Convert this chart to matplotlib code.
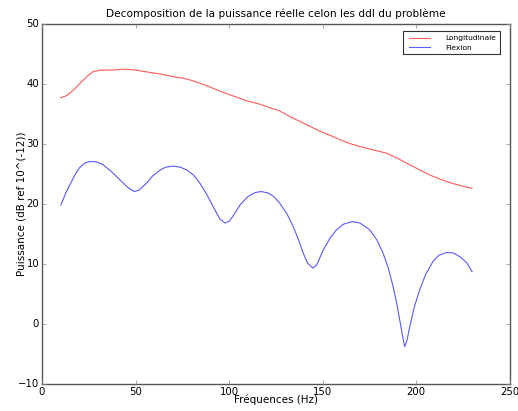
import matplotlib
matplotlib.use("Agg")
import matplotlib.pyplot as plt

# Longitudinal series
freq_long = [10, 13, 17, 21, 25, 27.4, 32, 38, 44.3, 50, 57.7, 64, 70.2, 76, 80.8, 88, 95, 102,
             109.3, 116.5, 122, 127, 132.5, 140, 148, 157.4, 164, 169.9, 177, 184.1, 190,
             194.8, 201, 207.3, 213, 218, 224, 229.9]
p_long = [37.7, 38.0, 39.0, 40.3, 41.5, 42.05, 42.3, 42.3, 42.45, 42.3, 41.9, 41.6, 41.2, 40.9,
          40.5, 39.7, 38.8, 38.0, 37.2, 36.6, 36.0, 35.5, 34.55, 33.4, 32.2, 30.95, 30.1,
          29.55, 29.0, 28.45, 27.6, 26.8, 25.8, 24.8, 24.1, 23.55, 23.0, 22.6]

# Flexion series
freq_flex = [10.1, 13, 17.6, 20, 22.9, 25, 27.9, 30, 32.8, 37, 41.7, 46, 49.3, 52, 55.9, 59, 63,
             66, 70.2, 74, 77.3, 81, 84.4, 88, 91.5, 95, 97.8, 100, 102, 105.8, 110, 114,
             117.3, 121, 124, 127.1, 131, 134.3, 137, 139.6, 142, 144.9, 147, 150.3, 154,
             157.4, 161, 166, 170, 175.2, 179, 182.3, 185, 187.7, 189.5, 191.2, 192.6, 193.9,
             195.2, 196.6, 199, 201.9, 205, 209, 212, 216.2, 220, 223.3, 227, 229.9]
p_flex = [19.8, 22.0, 24.8, 26.0, 26.8, 27.0, 27.05, 26.9, 26.5, 25.4, 24.0, 22.7, 22.05, 22.3,
          23.45, 24.6, 25.6, 26.1, 26.3, 26.1, 25.67, 24.8, 23.45, 21.6, 19.55, 17.5, 16.8,
          17.1, 17.9, 19.8, 21.2, 21.9, 22.05, 21.8, 21.2, 20.1, 18.3, 16.2, 14.1, 11.8, 10.1,
          9.28, 9.9, 12.3, 14.3, 15.67, 16.6, 17.05, 16.8, 15.67, 14.0, 11.8, 9.4, 6.2, 3.6,
          0.67, -1.8, -3.8, -2.6, -0.45, 2.8, 5.67, 8.2, 10.4, 11.4, 11.9, 11.8, 11.2, 10.2, 8.7]

plt.style.use('classic')
fig = plt.figure(figsize=(5.18, 4.11), dpi=100, facecolor='white')
ax = fig.add_subplot(111)
fig.subplots_adjust(left=0.081, right=0.984, top=0.942, bottom=0.066)

ax.plot(freq_long, p_long, color='#ff0000', lw=0.8, alpha=0.65, label='Longitudinale')
ax.plot(freq_flex, p_flex, color='#0000ff', lw=0.8, alpha=0.65, label='Flexion')

ax.set_xlim(0, 250)
ax.set_ylim(-10, 50)
ax.tick_params(labelsize=7.3, length=3, color='#888888', pad=2)
ax.set_title('Decomposition de la puissance réelle celon les ddl du problème', fontsize=7.6)
ax.set_xlabel('Fréquences (Hz)', fontsize=7.5)
ax.set_ylabel('Puissance (dB ref 10^(-12))', fontsize=7.5)
ax.yaxis.set_label_coords(-0.032, 0.5)
ax.xaxis.set_label_coords(0.5, -0.029)
ax.xaxis.label.set_va('top')
for s in ax.spines.values():
    s.set_color('#555555')
leg = ax.legend(loc='upper right', bbox_to_anchor=(0.979, 0.979), fontsize=5.4, frameon=True,
                borderpad=0.5, handlelength=3.4, handletextpad=1.8, labelspacing=0.4,
                borderaxespad=0.0)
leg.get_frame().set_edgecolor('#333333')
leg.get_frame().set_linewidth(0.8)

fig.savefig('out.png', dpi=100, facecolor='white')
